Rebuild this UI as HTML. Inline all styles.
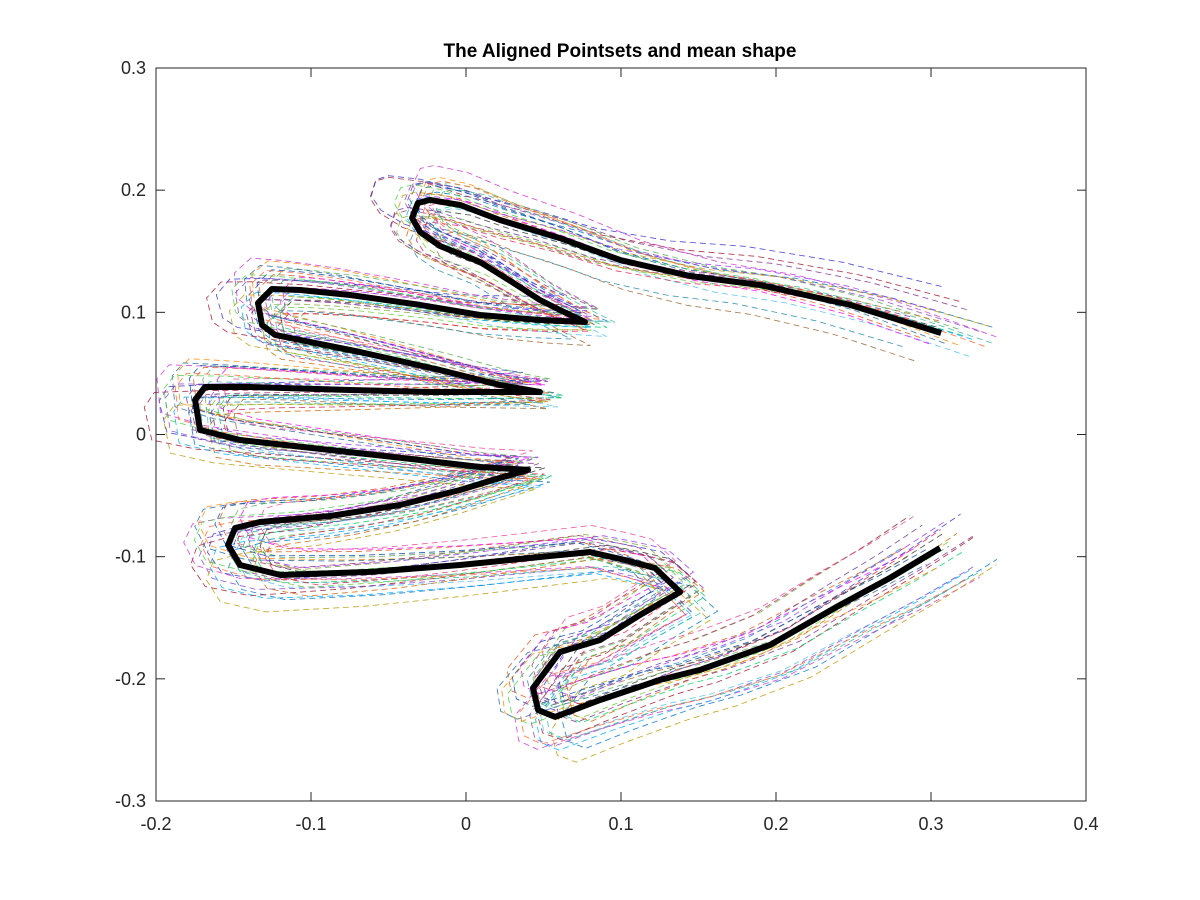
<!DOCTYPE html>
<html><head><meta charset="utf-8"><style>
html,body{margin:0;padding:0;background:#fff;}
svg{display:block;font-family:"Liberation Sans",Arial,sans-serif;}
</style></head><body>
<svg id="chart" width="1200" height="900" viewBox="0 0 1200 900">
<rect x="0" y="0" width="1200" height="900" fill="#fff"/>
<text x="620" y="57" text-anchor="middle" font-size="19" font-weight="bold" fill="#000">The Aligned Pointsets and mean shape</text>
<g id="plot"></g>
</svg>
<script>
const meanX=[0.3065,0.248,0.1897,0.1445,0.0994,0.0606,0.0219,-0.0039,-0.0232,-0.031,-0.0348,-0.0297,-0.0168,0.009,0.0297,0.0477,0.0606,0.0768,0.0477,0.009,-0.0297,-0.0748,-0.1071,-0.1252,-0.1342,-0.1316,-0.1232,-0.1071,-0.0684,-0.0168,0.0219,0.0477,0.0219,-0.0232,-0.0748,-0.1394,-0.1684,-0.1748,-0.1716,-0.1458,-0.0877,-0.0297,0.009,0.04,0.0219,-0.0039,-0.0426,-0.0877,-0.1329,-0.149,-0.1535,-0.1458,-0.1197,-0.0619,-0.0039,0.0477,0.08,0.1026,0.1219,0.1381,0.1123,0.0865,0.0606,0.0432,0.0465,0.0574,0.0865,0.1252,0.151,0.1961,0.2413,0.2735,0.3058];
const meanY=[0.0831,0.106,0.1224,0.1297,0.1428,0.1608,0.1756,0.1879,0.192,0.1895,0.1772,0.1658,0.1543,0.1412,0.1248,0.1101,0.1019,0.0921,0.0937,0.0978,0.1061,0.1142,0.1183,0.1191,0.1076,0.0896,0.0815,0.0774,0.0675,0.0528,0.0405,0.0348,0.0348,0.0348,0.0364,0.0389,0.0389,0.0282,0.0037,-0.0045,-0.0127,-0.0209,-0.0266,-0.029,-0.0356,-0.0454,-0.0577,-0.0667,-0.0716,-0.0765,-0.0904,-0.1068,-0.115,-0.1125,-0.1068,-0.1003,-0.0962,-0.1027,-0.1093,-0.1289,-0.1477,-0.1682,-0.178,-0.2075,-0.2255,-0.2312,-0.2173,-0.2009,-0.1927,-0.1723,-0.1396,-0.1175,-0.0929];
const setScale=[1.05,0.97,1.08,0.93,1.02,1.1,0.95,1.0,1.06,0.91,1.12,0.98,1.04,0.96,1.07,0.94,1.01,1.09,0.99,1.03,0.92,1.06,0.97,1.11,1.0,0.95,1.04,0.98,1.08,0.93];
const setRot=[0.03,-0.04,0.02,0.06,-0.03,0.05,-0.05,0.01,0.07,-0.02,-0.05,0.04,-0.07,0.03,0.0,0.05,-0.03,-0.01,0.07,-0.06,0.02,-0.03,0.05,0.03,-0.04,0.06,-0.02,0.04,-0.05,0.01];
const setDx=[0.005,-0.008,0.012,-0.004,0.01,-0.012,0.003,0.015,-0.01,0.007,-0.003,0.009,-0.006,0.011,0.0,-0.009,0.006,-0.002,0.008,-0.011,0.004,0.013,-0.007,0.002,-0.005,0.01,-0.013,0.006,0.001,-0.004];
const setDy=[0.006,0.01,-0.008,0.004,-0.012,0.002,0.009,-0.005,0.012,-0.01,0.003,-0.007,0.008,0.0,-0.011,0.005,0.011,-0.003,-0.009,0.007,0.013,-0.004,0.002,-0.013,0.01,-0.006,0.004,0.009,-0.002,-0.008];
const setColor=['#7e2f8e','#d95319','#0072bd','#77ac30','#4dbeee','#a2142f','#ff00ff','#00cc66','#3333cc','#996633','#cc33cc','#66cc33','#ff8800','#333333','#00aaff','#aa3366','#55aa55','#8844cc','#cc6600','#226699','#ee4499','#33bb99','#663399','#bb9900','#0044aa','#dd2255','#44cc44','#9933ff','#ff6633','#2288aa'];
const xTicks=[-0.2,-0.1,0,0.1,0.2,0.3,0.4];
const yTicks=[-0.3,-0.2,-0.1,0,0.1,0.2,0.3];
const L=156,R=1086,T=68,B=801;
const sx=v=>L+(v+0.2)/0.6*(R-L);
const sy=v=>T+(0.3-v)/0.6*(B-T);
const ns='http://www.w3.org/2000/svg';
const g=document.getElementById('plot');
function mk(tag,attrs){const e=document.createElementNS(ns,tag);for(const k in attrs)e.setAttribute(k,attrs[k]);g.appendChild(e);return e;}
for(let s=0;s<setScale.length;s++){
  const c=Math.cos(setRot[s]),sn=Math.sin(setRot[s]),k=setScale[s];
  let d='';
  for(let i=0;i<meanX.length;i++){
    const x=meanX[i]-0.02,y=meanY[i];
    const X=k*(c*x-sn*y)+0.02+setDx[s],Y=k*(sn*x+c*y)+setDy[s];
    d+=(i?'L':'M')+sx(X).toFixed(1)+' '+sy(Y).toFixed(1);
  }
  const p=mk('path',{d:d,fill:'none',stroke:setColor[s],'stroke-width':0.85,'stroke-opacity':0.85,'stroke-dasharray':'6 4'});
  
  
}
let md='';
for(let i=0;i<meanX.length;i++)md+=(i?'L':'M')+sx(meanX[i]).toFixed(1)+' '+sy(meanY[i]).toFixed(1);
const mp=mk('path',{d:md,fill:'none',stroke:'#000','stroke-width':6,'stroke-linejoin':'round'});


const box=mk('rect',{x:L,y:T,width:R-L,height:B-T,fill:'none',stroke:'#262626','stroke-width':1});


xTicks.forEach(v=>{
  const x=sx(v);
  mk('line',{x1:x,y1:B,x2:x,y2:B-9,stroke:'#262626'});
  mk('line',{x1:x,y1:T,x2:x,y2:T+9,stroke:'#262626'});
  const t=mk('text',{x:x,y:B+29,'text-anchor':'middle','font-size':18,fill:'#262626'});
  t.textContent=(v===0?'0':v.toFixed(1));
  
  
});
yTicks.forEach(v=>{
  const y=sy(v);
  mk('line',{x1:L,y1:y,x2:L+9,y2:y,stroke:'#262626'});
  mk('line',{x1:R,y1:y,x2:R-9,y2:y,stroke:'#262626'});
  const t=mk('text',{x:L-10,y:y+6,'text-anchor':'end','font-size':18,fill:'#262626'});
  t.textContent=(Math.abs(v)<1e-9?'0':v.toFixed(1));
  
  
});
</script>
</body></html>
